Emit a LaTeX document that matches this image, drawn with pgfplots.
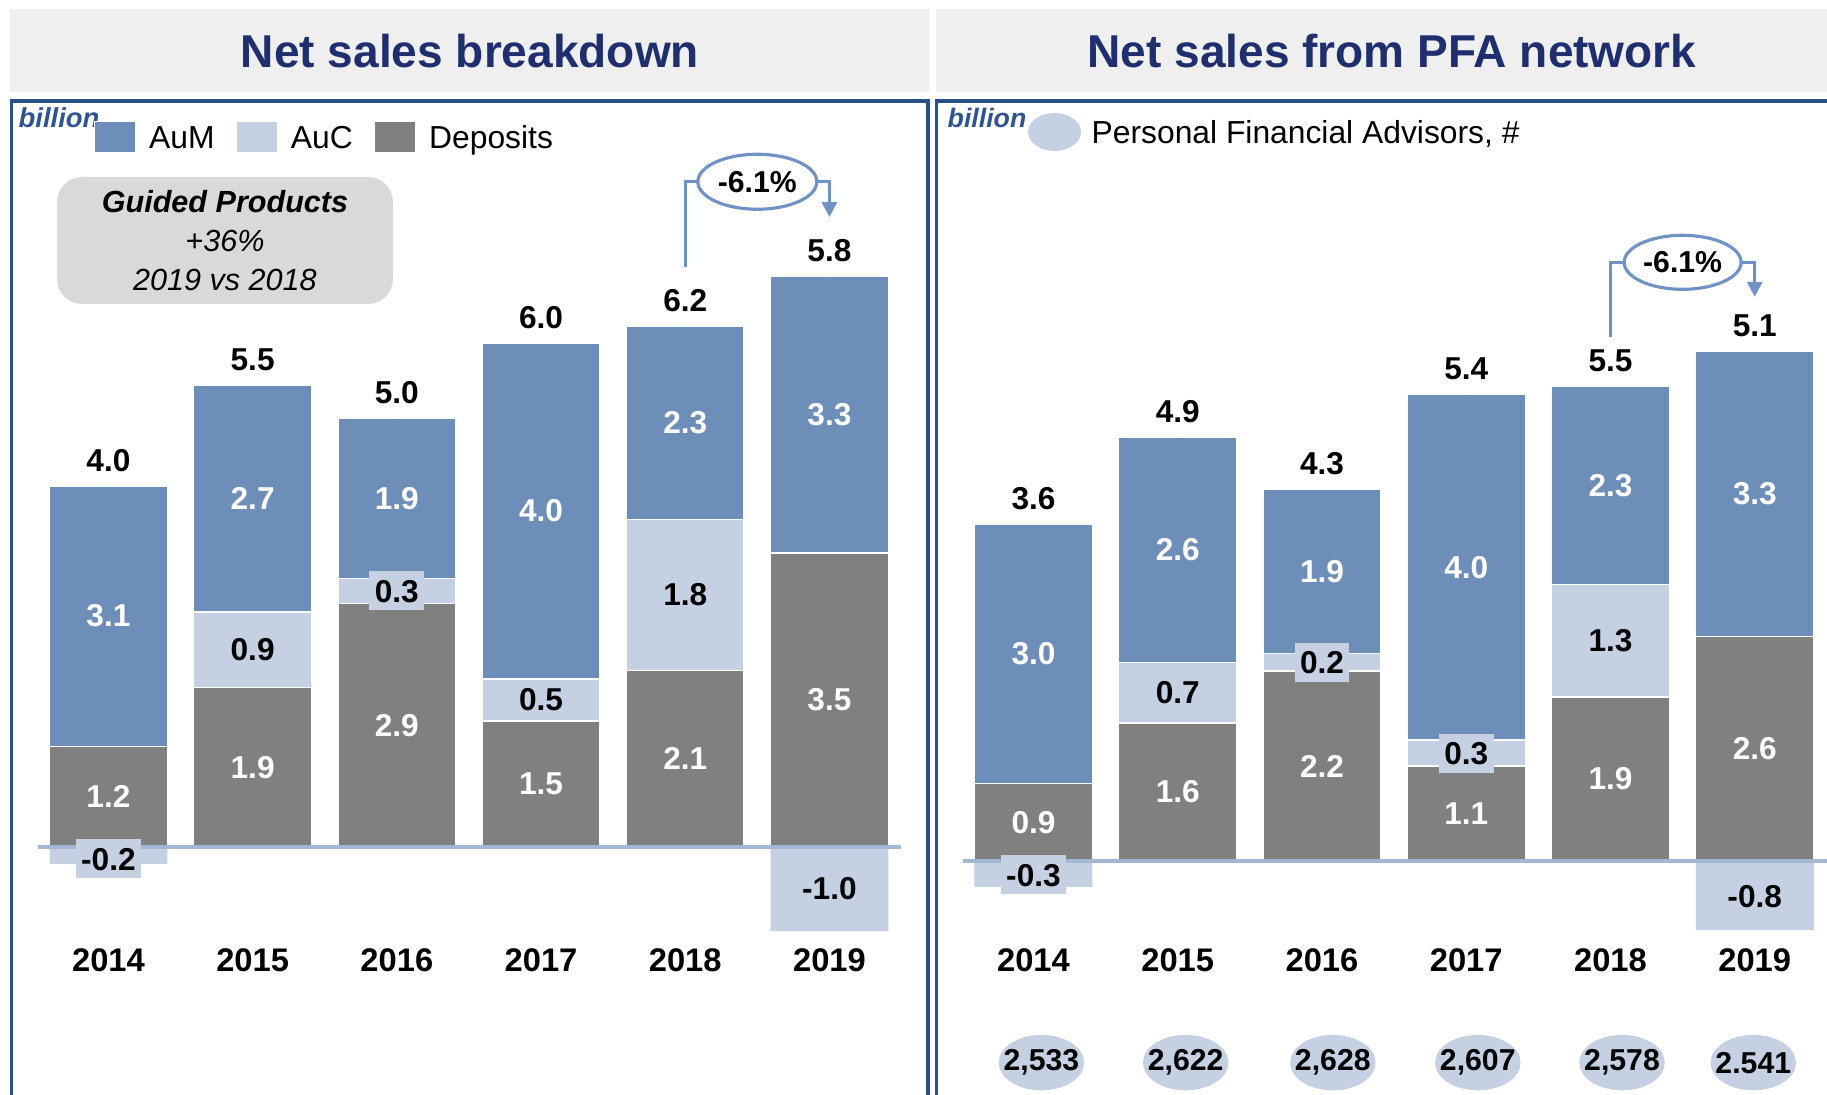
\documentclass[border=0pt]{standalone}
\usepackage{fontspec}
\setmainfont{Liberation Sans}
\usepackage{pgfplots}
\pgfplotsset{compat=1.18}
\usetikzlibrary{arrows.meta}

\definecolor{aumC}{HTML}{6E8EBA}
\definecolor{aucC}{HTML}{C5D0E2}
\definecolor{depC}{HTML}{808080}
\definecolor{zeroC}{HTML}{A3B6D4}
\definecolor{annC}{HTML}{7093C4}
\definecolor{titleBg}{HTML}{EFEFEF}
\definecolor{titleC}{HTML}{1F2E6E}
\definecolor{frameC}{HTML}{2A5087}
\definecolor{billC}{HTML}{2F5496}
\definecolor{guideC}{HTML}{D9D9D9}

\newcommand\vf{\fontsize{9}{10}\selectfont\bfseries}

\tikzset{annline/.style={annC, line width=0.9pt}}

\pgfplotsset{
  leftgeom/.style={x=1.442cm, y=0.84cm, xmin=-0.485, xmax=5.495,
    ymin=-1.346, ymax=7, at={(0.385cm,1.349cm)}, anchor=south west,
    clip=false, enlargelimits=false},
  rightgeom/.style={x=1.4425cm, y=0.864cm, xmin=-0.49, xmax=5.5,
    ymin=-1.146, ymax=6.5, at={(9.628cm,1.349cm)}, anchor=south west,
    clip=false, enlargelimits=false},
  barsaxis/.style={axis line style={draw=none}, major tick length=0,
    ytick=\empty, xtick={0,...,5},
    xticklabels={2014,2015,2016,2017,2018,2019},
    xticklabel style={anchor=center, font=\fontsize{9.3}{11}\selectfont\bfseries}},
  sq/.style={legend image code/.code={
    \fill[##1] (0cm,-0.155cm) rectangle (0.41cm,0.155cm); \path (0.54cm,0);}},
  vlab/.style={only marks, mark=*, mark size=0pt, mark options={draw=none,fill=none},
    point meta=explicit symbolic, nodes near coords={\pgfplotspointmeta},
    every node near coord/.append style={anchor=center, inner sep=0pt, font=\vf}},
  wlab/.style={vlab, every node near coord/.append style={text=white}},
  blab/.style={vlab, every node near coord/.append style={text=black}},
  boxlab/.style={vlab, every node near coord/.append style={text=black, fill=aucC,
    inner xsep=0.055cm, inner ysep=0.08cm, text height=0.23cm, text depth=0cm}},
  tlab/.style={vlab, every node near coord/.append style={anchor=south,
    yshift=0.14cm, text=black, text depth=0pt}},
}

\begin{document}
\begin{tikzpicture}
\path[use as bounding box] (0,0) rectangle (18.27,10.95);

% panel headers and frames
\fill[titleBg] (0.10,10.03) rectangle (9.29,10.86);
\fill[titleBg] (9.36,10.03) rectangle (18.27,10.86);
\node[anchor=base, font=\fontsize{13.1}{15}\selectfont\bfseries, text=titleC]
  at (4.70,10.27) {Net sales breakdown};
\node[anchor=base, font=\fontsize{13.1}{15}\selectfont\bfseries, text=titleC]
  at (13.92,10.27) {Net sales from PFA network};
\draw[frameC, line width=0.035cm] (0.115,-0.2) -- (0.115,9.94) -- (9.28,9.94) -- (9.28,-0.2);
\draw[frameC, line width=0.035cm] (9.365,-0.2) -- (9.365,9.94) -- (18.5,9.94);
\node[anchor=base west, inner sep=0pt, text=billC, font=\fontsize{7.8}{8}\selectfont\bfseries\itshape]
  at (0.18,9.67) {billion};
\node[anchor=base west, inner sep=0pt, text=billC, font=\fontsize{7.6}{8}\selectfont\bfseries\itshape]
  at (9.47,9.67) {billion};

% legend of the PFA panel
\fill[aucC] (10.545,9.63) ellipse [x radius=0.265, y radius=0.19];
\node[anchor=base west, inner sep=0pt, font=\fontsize{9.05}{10}\selectfont]
  at (10.91,9.51) {Personal Financial Advisors, \#};

% callout box
\fill[guideC, rounded corners=0.25cm] (0.57,7.91) rectangle (3.93,9.18);
\node[anchor=base, inner sep=0pt, font=\fontsize{8.7}{10}\selectfont\bfseries\itshape]
  at (2.25,8.82) {Guided Products};
\node[anchor=base, inner sep=0pt, font=\fontsize{8.7}{10}\selectfont\itshape]
  at (2.25,8.43) {+36\%};
\node[anchor=base, inner sep=0pt, font=\fontsize{8.7}{10}\selectfont\itshape]
  at (2.25,8.04) {2019 vs 2018};

% ---------- left: net sales breakdown ----------
\begin{axis}[leftgeom, barsaxis, ybar stacked, bar width=1.177cm,
  reverse legend, legend columns=3,
  legend style={draw=none, fill=none, inner sep=0pt, at={(0.0632,1.174)}, anchor=west,
    font=\fontsize{9.05}{10}\selectfont,
    nodes={inner sep=0pt, text height=0.235cm, text depth=0cm},
    /tikz/every even column/.append style={column sep=0.21cm}}]
  \addplot[fill=depC, draw=white, line width=0.4pt, sq] coordinates
    {(0,1.2) (1,1.9) (2,2.9) (3,1.5) (4,2.1) (5,3.5)};
  \addplot[fill=aucC, draw=white, line width=0.4pt, sq] coordinates
    {(0,0) (1,0.9) (2,0.3) (3,0.5) (4,1.8) (5,0)};
  \addplot[fill=aumC, draw=white, line width=0.4pt, sq] coordinates
    {(0,3.1) (1,2.7) (2,1.9) (3,4.0) (4,2.3) (5,3.3)};
  \legend{Deposits,AuC,AuM}
\end{axis}
\begin{axis}[leftgeom, hide axis]
  \addplot[ybar, bar width=1.177cm, /pgf/bar shift=0pt, fill=aucC, draw=none]
    coordinates {(0,-0.2) (5,-1.0)};
  \addplot[zeroC, line width=0.9pt, mark=none] coordinates {(-0.485,0) (5.495,0)};
  \addplot[wlab] coordinates {(0,0.6)[1.2] (1,0.95)[1.9] (2,1.45)[2.9]
    (3,0.75)[1.5] (4,1.05)[2.1] (5,1.75)[3.5]};
  \addplot[wlab] coordinates {(0,2.75)[3.1] (1,4.15)[2.7] (2,4.15)[1.9]
    (3,4.0)[4.0] (4,5.05)[2.3] (5,5.15)[3.3]};
  \addplot[blab] coordinates {(1,2.35)[0.9] (3,1.75)[0.5] (4,3.0)[1.8] (5,-0.5)[-1.0]};
  \addplot[boxlab] coordinates {(0,-0.14)[-0.2] (2,3.05)[0.3]};
  \addplot[tlab] coordinates {(0,4.3)[4.0] (1,5.5)[5.5] (2,5.1)[5.0]
    (3,6.0)[6.0] (4,6.2)[6.2] (5,6.8)[5.8]};
  \draw[annline] (axis cs:4,6.9) |- (axis cs:4.5,7.92);
  \draw[annline, -{Triangle[width=0.15cm,length=0.15cm]}]
    (axis cs:4.5,7.92) -| (axis cs:5,7.5);
  \fill[white] (axis cs:4.5,7.92) ellipse [x radius=0.595cm, y radius=0.275cm];
  \draw[annline] (axis cs:4.5,7.92) ellipse [x radius=0.595cm, y radius=0.275cm];
  \node[inner sep=0pt, font=\fontsize{8.6}{10}\selectfont\bfseries]
    at (axis cs:4.5,7.92) {-6.1\%};
\end{axis}

% ---------- right: net sales from PFA network ----------
\begin{axis}[rightgeom, barsaxis, ybar stacked, bar width=1.18cm]
  \addplot[fill=depC, draw=white, line width=0.4pt] coordinates
    {(0,0.9) (1,1.6) (2,2.2) (3,1.1) (4,1.9) (5,2.6)};
  \addplot[fill=aucC, draw=white, line width=0.4pt] coordinates
    {(0,0) (1,0.7) (2,0.2) (3,0.3) (4,1.3) (5,0)};
  \addplot[fill=aumC, draw=white, line width=0.4pt] coordinates
    {(0,3.0) (1,2.6) (2,1.9) (3,4.0) (4,2.3) (5,3.3)};
\end{axis}
\begin{axis}[rightgeom, hide axis]
  % PFA headcount, shown as ellipses under the years
  \addplot[color=aucC, only marks, mark=*, mark size=0.27cm,
    mark options={xscale=1.556, fill=aucC, draw=aucC},
    point meta=explicit symbolic, nodes near coords={\pgfplotspointmeta},
    every node near coord/.append style={anchor=center, inner sep=0pt, text=black,
      font=\fontsize{8.6}{10}\selectfont\bfseries}]
    coordinates {(0.055,-2.333)[{2,533}] (1.055,-2.333)[{2,622}] (2.075,-2.333)[{2,628}]
      (3.08,-2.333)[{2,607}] (4.08,-2.333)[{2,578}] (4.99,-2.333)[{2.541}]};
  \addplot[ybar, bar width=1.18cm, /pgf/bar shift=0pt, fill=aucC, draw=none]
    coordinates {(0,-0.3) (5,-0.8)};
  \addplot[zeroC, line width=0.9pt, mark=none] coordinates {(-0.49,0) (5.5,0)};
  \addplot[wlab] coordinates {(0,0.45)[0.9] (1,0.8)[1.6] (2,1.1)[2.2]
    (3,0.55)[1.1] (4,0.95)[1.9] (5,1.3)[2.6]};
  \addplot[wlab] coordinates {(0,2.4)[3.0] (1,3.6)[2.6] (2,3.35)[1.9]
    (3,3.4)[4.0] (4,4.35)[2.3] (5,4.25)[3.3]};
  \addplot[blab] coordinates {(1,1.95)[0.7] (4,2.55)[1.3] (5,-0.41)[-0.8]};
  \addplot[boxlab] coordinates {(0,-0.16)[-0.3] (2,2.3)[0.2] (3,1.25)[0.3]};
  \addplot[tlab] coordinates {(0,3.9)[3.6] (1,4.9)[4.9] (2,4.3)[4.3]
    (3,5.4)[5.4] (4,5.5)[5.5] (5,5.9)[5.1]};
  \draw[annline] (axis cs:4,6.07) |- (axis cs:4.5,6.93);
  \draw[annline, -{Triangle[width=0.15cm,length=0.15cm]}]
    (axis cs:4.5,6.93) -| (axis cs:5,6.53);
  \fill[white] (axis cs:4.5,6.93) ellipse [x radius=0.585cm, y radius=0.27cm];
  \draw[annline] (axis cs:4.5,6.93) ellipse [x radius=0.585cm, y radius=0.27cm];
  \node[inner sep=0pt, font=\fontsize{8.6}{10}\selectfont\bfseries]
    at (axis cs:4.5,6.93) {-6.1\%};
\end{axis}
\end{tikzpicture}
\end{document}
